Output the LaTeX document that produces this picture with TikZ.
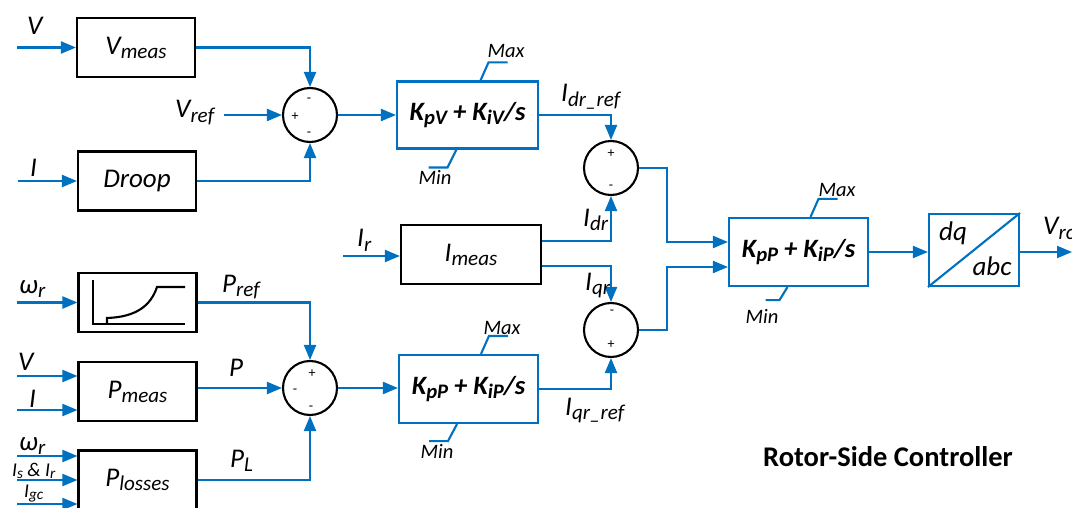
\documentclass[tikz,border=0pt]{standalone}
\usepackage{fontspec}
\setmainfont{Carlito}
\usetikzlibrary{arrows.meta}
\definecolor{lb}{HTML}{0070C0}
\newcommand{\fs}[1]{\fontsize{#1}{#1}\selectfont}
\newcommand{\lsub}[1]{\raisebox{-0.15em}{\scalebox{0.78}{#1}}}
\begin{document}
\begin{tikzpicture}[x=1pt,y=-1pt,
  arr/.style={draw=lb, line width=2.1pt, -{Triangle[length=15pt,width=12pt]}},
  bl/.style={draw=lb, line width=2.1pt},
  blk/.style={draw=black, line width=2.1pt, minimum width=118pt, minimum height=59pt, inner sep=0pt, font=\fs{27}\itshape},
  pib/.style={draw=lb, line width=2.1pt, minimum width=140pt, minimum height=67pt, inner sep=0pt, font=\fs{26.5}\bfseries\itshape},
  sumc/.style={circle, draw=black, line width=2.1pt, minimum size=54pt, inner sep=0pt},
  lbl/.style={anchor=base west, inner sep=0pt, font=\fs{27}\itshape},
  sgn/.style={inner sep=0pt, font=\fs{14}},
  lim/.style={inner sep=0pt, font=\fs{20.5}\itshape}]
\clip (0,0) rectangle (1072,508);
% ---- blocks ----
\node[blk] (vmeas) at (136,47.5) {V\lsub{meas}};
\node[blk] (droop) at (137,181) {Droop};
\node[sumc] (s1) at (310,115) {};
\node[pib, minimum width=141pt] (kpv) at (467.5,115) {K\lsub{pV} + K\lsub{iV}/s};
\node[sumc] (s2) at (611,168) {};
\node[blk, minimum width=140pt] (imeas) at (471,254.5) {I\lsub{meas}};
\node[sumc] (s3) at (611,330) {};
\node[pib, minimum width=139pt, minimum height=68pt] (kpp2) at (468.5,389) {K\lsub{pP} + K\lsub{iP}/s};
\node[sumc] (s4) at (310,388) {};
\node[blk] (wr) at (137.5,302.5) {};
\node[blk] (pmeas) at (137.5,391.5) {P\lsub{meas}};
\node[blk] (ploss) at (137.5,480) {P\lsub{losses}};
\node[pib, minimum width=139pt, minimum height=68pt] (kpp) at (798.5,252) {K\lsub{pP} + K\lsub{iP}/s};
\node[draw=lb, line width=2.1pt, minimum width=90pt, minimum height=72pt, inner sep=0pt] (dq) at (974,250) {};
\draw[bl] (dq.south west) -- (dq.north east);
\node[inner sep=0pt, font=\fs{27}\itshape] (dqt) at (953,233) {dq};
\node[inner sep=0pt, font=\fs{27}\itshape] (abct) at (992,266) {abc};
% curve inside wr block
\draw[black, line width=2.1pt] (93,280) -- (93,324) -- (185,324);
\draw[black, line width=2.1pt] (107,324) -- (107,318) .. controls (137,317) and (151,305) .. (157,287) -- (185,287);
% ---- free ends ----
\coordinate (vin) at (17,47.5);
\coordinate (iin) at (18,181);
\coordinate (vrefin) at (224,115);
\coordinate (irin) at (343,256);
\coordinate (wrin) at (17,302.5);
\coordinate (vin2) at (17,376);
\coordinate (iin2) at (17,410);
\coordinate (wrin2) at (17,456);
\coordinate (isin) at (17,480);
\coordinate (igcin) at (17,504);
\coordinate (yd) at (0,241);
\coordinate (yq) at (0,266);
\coordinate (j1) at (667,242);
\coordinate (j2) at (667,267);
\coordinate (vrc) at (1072,252);
% ---- connectors ----
\draw[arr] (vin) -- (vmeas.west);
\draw[arr] (iin) -- (droop.west);
\draw[arr] (vmeas.east) -| (s1.north);
\draw[arr] (droop.east) -| (s1.south);
\draw[arr] (vrefin) -- (s1.west);
\draw[arr] (s1.east) -- (kpv.west);
\draw[arr] (kpv.east) -| (s2.north);
\draw[arr] (irin) -- (irin -| imeas.west);
\draw[arr] (imeas.east |- yd) -| (s2.south);
\draw[arr] (imeas.east |- yq) -| (s3.north);
\draw[arr] (kpp2.east) -| (s3.south);
\draw[arr] (s2.east) -| (j1) -- (j1 -| kpp.west);
\draw[arr] (s3.east) -| (j2) -- (j2 -| kpp.west);
\draw[arr] (kpp.east) -- (kpp.east -| dq.west);
\draw[arr] (dq.east |- kpp.east) -- (vrc);
\draw[arr] (wrin) -- (wr.west);
\draw[arr] (vin2) -- (vin2 -| pmeas.west);
\draw[arr] (iin2) -- (iin2 -| pmeas.west);
\draw[arr] (wrin2) -- (wrin2 -| ploss.west);
\draw[arr] (isin) -- (isin -| ploss.west);
\draw[arr] (igcin) -- (igcin -| ploss.west);
\draw[arr] (wr.east) -| (s4.north);
\draw[arr] (s4.west -| pmeas.east) -- (s4.west);
\draw[arr] (ploss.east) -| (s4.south);
\draw[arr] (s4.east) -- (s4.east -| kpp2.west);
% ---- limiter ticks ----
\draw[bl] ([xshift=13pt]kpv.north) -- ++(8,-18) -- ++(19,0);
\draw[bl] ([xshift=-11pt]kpv.south) -- ++(-9,18) -- ++(-19,0);
\draw[bl] ([xshift=12.5pt]kpp2.north) -- ++(8,-18) -- ++(19,0);
\draw[bl] ([xshift=-11.5pt]kpp2.south) -- ++(-9,17) -- ++(-19,0);
\draw[bl] ([xshift=12pt]kpp.north) -- ++(8,-18) -- ++(19,0);
\draw[bl] ([xshift=-11pt]kpp.south) -- ++(-8,13) -- ++(-14,0);
\node[lim] (mx1) at (506,51) {Max};
\node[lim] (mn1) at (435,177) {Min};
\node[lim] (mx2) at (502,328) {Max};
\node[lim] (mn2) at (437,451) {Min};
\node[lim] (mx3) at (837,190) {Max};
\node[lim] (mn3) at (762,316) {Min};
% ---- signs ----
\node[sgn] (s1a) at (309,100) {-};
\node[sgn] (s1b) at (295,117) {+};
\node[sgn] (s1c) at (309,134) {-};
\node[sgn] (s2a) at (611,154) {+};
\node[sgn] (s2b) at (611,187) {-};
\node[sgn] (s3a) at (612,312) {-};
\node[sgn] (s3b) at (611,345) {+};
\node[sgn] (s4a) at (312,374) {+};
\node[sgn] (s4b) at (295,391) {-};
\node[sgn] (s4c) at (311,408) {-};
% ---- labels ----
\node[lbl] (lv) at (27,35) {V};
\node[lbl] (li) at (30,177) {I};
\node[lbl] (lvref) at (175,118) {V\lsub{ref}};
\node[lbl] (lidrref) at (561,102) {I\lsub{dr\_ref}};
\node[lbl] (lidr) at (583,226) {I\lsub{dr}};
\node[lbl] (lir) at (357,247) {I\lsub{r}};
\node[lbl] (liqr) at (585,290) {I\lsub{qr}};
\node[lbl] (liqrref) at (565,415) {I\lsub{qr\_ref}};
\node[lbl] (lvrc) at (1043,235) {V\lsub{rc}};
\node[lbl] (lwr) at (19,293) {ω\lsub{r}};
\node[lbl] (lpref) at (222,292) {P\lsub{ref}};
\node[lbl] (lv2) at (18,370) {V};
\node[lbl] (lp) at (229,376) {P};
\node[lbl] (li2) at (29,407) {I};
\node[lbl] (lwr2) at (19,450) {ω\lsub{r}};
\node[lbl, font=\fs{19.5}\itshape] (lis) at (12,476) {I\lsub{s} \& I\lsub{r}};
\node[lbl, font=\fs{19.5}\itshape] (ligc) at (24,497) {I\lsub{gc}};
\node[lbl] (lpl) at (230,467) {P\lsub{L}};
\node[inner sep=0pt, font=\fs{28.5}\bfseries] (title) at (888,457) {Rotor-Side Controller};
\end{tikzpicture}
\end{document}
